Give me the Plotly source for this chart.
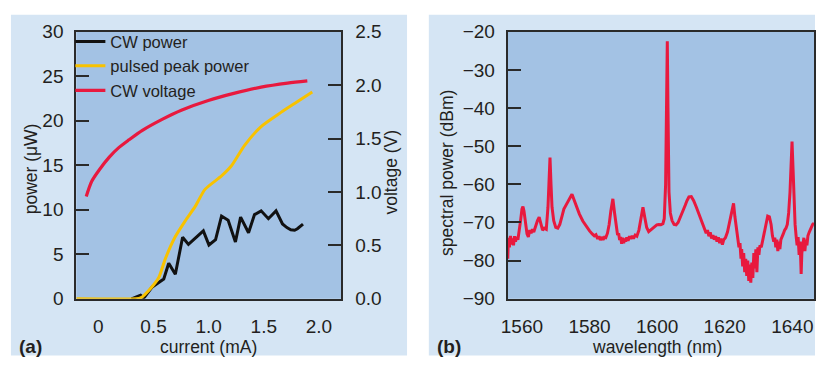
import plotly.graph_objects as go

# ---------------- data: panel (a) ----------------
cw_current = [0.30, 0.339, 0.383, 0.413, 0.489, 0.593, 0.638, 0.698, 0.764, 0.817, 0.952,
              1.003, 1.063, 1.117, 1.177, 1.243, 1.29, 1.362, 1.416, 1.476, 1.542,
              1.611, 1.670, 1.71, 1.745, 1.78, 1.805, 1.856]
cw_power = [0.0, 0.15, 0.4, 0.1, 1.34, 2.22, 3.99, 2.75, 6.92, 6.11, 7.63,
            6.04, 6.64, 9.29, 8.82, 6.39, 9.18, 7.42, 9.46, 9.88, 9.0,
            9.88, 8.40, 8.0, 7.76, 7.7, 7.87, 8.40]

pulsed_current = [-0.2, 0.34, 0.383, 0.473, 0.548, 0.608, 0.698, 0.788, 0.877, 0.967,
                  1.117, 1.207, 1.326, 1.476, 1.656, 1.80, 1.940]
pulsed_power = [0.0, 0.0, 0.1, 1.17, 2.40, 4.52, 6.99, 8.76, 10.35, 12.29,
                13.80, 14.94, 17.24, 19.35, 20.94, 22.1, 23.23]

volt_current = [-0.110, -0.06, 0.009, 0.099, 0.18, 0.278, 0.399, 0.578, 0.758,
                0.997, 1.237, 1.476, 1.715, 1.895]
cw_voltage = [0.957, 1.10, 1.208, 1.326, 1.41, 1.488, 1.577, 1.680, 1.768,
              1.857, 1.925, 1.981, 2.019, 2.04]

a_x_ticks = [0, 0.5, 1.0, 1.5, 2.0]
a_x_labels = ["0", "0.5", "1.0", "1.5", "2.0"]
a_x_minor = [0.5, 1.0, 1.5]
a_y_ticks = [0, 5, 10, 15, 20, 25, 30]
a_y2_ticks = [0, 0.5, 1.0, 1.5, 2.0, 2.5]
a_y2_labels = ["0.0", "0.5", "1.0", "1.5", "2.0", "2.5"]

# ---------------- data: panel (b) ----------------
wavelength = [
    1555.8, 1556.0, 1556.3, 1556.6, 1556.9, 1557.2, 1557.5, 1557.8, 1558.1, 1558.4,
    1558.8, 1559.2, 1559.6, 1560.0, 1560.3, 1560.6, 1561.0, 1561.5, 1561.9, 1562.3,
    1562.7, 1563.1, 1563.5, 1564.0, 1564.6, 1565.1, 1565.6, 1566.1, 1566.6, 1567.2,
    1567.7, 1568.0, 1568.3, 1568.6, 1568.9, 1569.4, 1570.0, 1570.6, 1571.2, 1571.8,
    1572.4, 1573.0, 1573.6, 1574.2, 1574.8, 1575.3, 1576.0, 1577.0, 1578.0, 1579.0,
    1580.0, 1580.8, 1581.4, 1581.9, 1582.4, 1582.8, 1583.2, 1583.6, 1584.0, 1584.4,
    1584.8, 1585.3, 1585.8, 1586.3, 1586.9, 1587.4, 1587.9, 1588.3, 1588.6, 1588.9,
    1589.2, 1589.5, 1589.8, 1590.1, 1590.4, 1590.7, 1591.0, 1591.4, 1591.8, 1592.2,
    1592.6, 1593.0, 1593.5, 1594.0, 1594.6, 1595.2, 1595.8, 1596.3, 1596.9, 1597.5,
    1598.1, 1598.7, 1599.3, 1599.9, 1600.5, 1601.1, 1601.7, 1602.1, 1602.5, 1602.8,
    1603.0, 1603.2, 1603.5, 1603.9, 1604.4, 1605.0, 1605.6, 1606.2, 1606.8, 1607.4,
    1607.8, 1608.3, 1608.8, 1609.4, 1610.1, 1610.8, 1611.6, 1612.4, 1613.2, 1614.0,
    1614.5, 1614.9, 1615.3, 1615.7, 1616.1, 1616.5, 1616.9, 1617.3, 1617.7, 1618.1,
    1618.5, 1618.9, 1619.3, 1619.7, 1620.2, 1620.8, 1621.4, 1622.0, 1622.6, 1623.0,
    1623.5, 1623.9, 1624.2, 1624.5, 1624.8, 1625.0, 1625.3, 1625.6, 1625.9, 1626.2,
    1626.5, 1626.8, 1627.1, 1627.4, 1627.7, 1628.0, 1628.3, 1628.6, 1628.9, 1629.2,
    1629.5, 1629.8, 1630.1, 1630.4, 1630.8, 1631.2, 1631.7, 1632.2, 1632.7, 1633.2,
    1633.7, 1634.1, 1634.5, 1634.8, 1635.1, 1635.4, 1635.7, 1636.0, 1636.3, 1636.6,
    1636.9, 1637.3, 1637.7, 1638.1, 1638.5, 1638.9, 1639.3, 1639.6, 1639.9, 1640.2,
    1640.5, 1640.8, 1641.1, 1641.4, 1641.7, 1642.0, 1642.3, 1642.6, 1642.8, 1643.1,
    1643.4, 1643.7, 1644.0, 1644.3, 1644.6, 1645.0, 1645.5, 1646.0, 1646.4]
spectral_power = [
    -79.5, -74.0, -76.5, -73.5, -75.8, -74.2, -76.0, -73.6, -75.0, -73.8,
    -74.5, -72.5, -69.5, -66.5, -65.8, -67.0, -70.5, -73.0, -73.8, -72.0,
    -72.8, -71.8, -72.5, -70.8, -69.5, -68.6, -70.5, -72.0, -71.5, -71.8,
    -66.0, -60.0, -53.0, -60.0, -66.0, -69.5, -71.3, -71.5, -70.5, -68.5,
    -66.5, -65.5, -64.5, -63.3, -62.6, -63.8, -65.6, -67.8, -69.6, -71.0,
    -72.2, -73.0, -73.5, -73.2, -74.3, -73.6, -74.6, -73.8, -74.5, -73.9,
    -74.0, -72.8, -70.5, -67.0, -63.8, -67.5, -71.5, -73.3, -72.8, -74.6,
    -73.8, -75.6, -74.0, -75.4, -74.2, -75.0, -73.9, -74.8, -73.6, -74.3,
    -73.5, -74.2, -73.3, -73.6, -72.0, -69.0, -66.0, -68.5, -71.3, -72.4,
    -72.0, -71.5, -71.0, -70.6, -70.5, -70.6, -70.3, -69.0, -60.0, -40.0,
    -22.5, -40.0, -62.0, -67.5, -69.5, -70.5, -70.6, -70.0, -68.8, -67.2,
    -66.4, -65.5, -64.3, -63.3, -63.2, -64.3, -66.0, -67.8, -69.6, -71.3,
    -72.8, -72.0, -73.6, -72.6, -74.2, -73.3, -74.5, -73.6, -75.0, -73.9,
    -75.4, -74.2, -75.8, -74.5, -74.0, -72.5, -70.0, -67.5, -65.0, -68.5,
    -72.5, -74.0, -76.5, -75.4, -79.5, -77.0, -81.5, -78.0, -83.0, -79.5,
    -84.0, -80.0, -85.3, -81.0, -85.8, -80.5, -84.5, -78.0, -82.0, -77.0,
    -83.0, -76.5, -78.5, -76.0, -76.5, -74.8, -72.5, -69.8, -68.3, -68.5,
    -70.5, -73.5, -75.0, -74.0, -76.5, -74.5, -77.5, -75.0, -77.0, -74.5,
    -74.0, -73.0, -72.0, -71.5, -70.5, -67.5, -62.0, -55.0, -48.8, -56.0,
    -64.0, -70.5, -73.5, -76.0, -73.8, -78.5, -75.0, -83.5, -78.0, -76.5,
    -74.0, -77.5, -74.5, -76.0, -73.5, -72.5, -71.5, -70.5, -70.2]

b_x_ticks = [1560, 1580, 1600, 1620, 1640]
b_x_minor = [1580, 1600, 1620]
b_y_ticks = [-90, -80, -70, -60, -50, -40, -30, -20]
b_y_labels = ["\u2212" + str(abs(v)) for v in b_y_ticks]

# ---------------- styling ----------------
W, H = 816, 374
FONT = "Liberation Sans, Arial, sans-serif"
TXT = "#231f20"
LINE = "#2a2a2a"
OUTER = "#d5e5f4"
INNER = "#a3c2e4"
RED = "#e8193e"
YEL = "#f8c200"


def px(x):
    return x / W


def py(y):
    return (H - y) / H


a_dom_x = [px(70), px(337.7)]
b_dom_x = [px(505.7), px(815)]
dom_y = [py(306), py(23)]

fig = go.Figure()

fig.add_trace(go.Scatter(x=cw_current, y=cw_power, mode="lines", name="CW power",
                         line=dict(color="#111111", width=3), xaxis="x", yaxis="y",
                         legendgroup="g1"))
fig.add_trace(go.Scatter(x=pulsed_current, y=pulsed_power, mode="lines",
                         name="pulsed peak power",
                         line=dict(color=YEL, width=3, shape="spline", smoothing=0.6),
                         xaxis="x", yaxis="y", legendgroup="g2"))
fig.add_trace(go.Scatter(x=volt_current, y=cw_voltage, mode="lines", name="CW voltage",
                         line=dict(color=RED, width=3.2, shape="spline", smoothing=0.8),
                         xaxis="x", yaxis="y2", legendgroup="g3"))
fig.add_trace(go.Scatter(x=wavelength, y=spectral_power, mode="lines", showlegend=False,
                         line=dict(color=RED, width=3), xaxis="x2", yaxis="y3"))

tickfont = dict(family=FONT, size=19, color=TXT)
common_line = dict(showline=True, linecolor=LINE, linewidth=2, showgrid=False,
                   zeroline=False, tickfont=tickfont, ticklabeloverflow="allow")

# The page div is sized to W x H (see write_html below); autosize fills it.
fig.update_layout(
    autosize=True, margin=dict(l=0, r=0, t=0, b=0),
    paper_bgcolor="white", plot_bgcolor="rgba(0,0,0,0)",
    font=dict(family=FONT, color=TXT),
    showlegend=True,
    legend=dict(x=px(64), y=py(15), xanchor="left", yanchor="top",
                bgcolor="rgba(0,0,0,0)", font=dict(family=FONT, size=16.5, color=TXT),
                itemwidth=30, traceorder="grouped", tracegroupgap=0),
    # panel (a)
    xaxis=dict(domain=a_dom_x, range=[-0.2, 2.204], anchor="y", tickvals=a_x_ticks,
               ticktext=a_x_labels, ticks="", mirror=True, ticklabelstandoff=9,
               **common_line),
    xaxis3=dict(overlaying="x", range=[0, 2.0075], anchor="y", tickvals=a_x_minor,
                ticks="inside", ticklen=13, tickwidth=1.6, tickcolor=LINE,
                showticklabels=False, showline=False, showgrid=False, zeroline=False),
    yaxis=dict(domain=dom_y, range=[0, 30], anchor="x", tickvals=a_y_ticks,
               ticks="inside", ticklen=13, tickwidth=1.6, tickcolor=LINE,
               mirror=True, ticklabelstandoff=7, **common_line),
    yaxis2=dict(overlaying="y", side="right", range=[0, 2.5], anchor="x",
                tickvals=a_y2_ticks, ticktext=a_y2_labels, ticks="inside", ticklen=13,
                tickwidth=1.6, tickcolor=LINE, ticklabelstandoff=8, **common_line),
    # panel (b)
    xaxis2=dict(domain=b_dom_x, range=[1555.8, 1646.4], anchor="y3", tickvals=b_x_ticks,
                ticks="", mirror=True, ticklabelstandoff=9, **common_line),
    xaxis4=dict(overlaying="x2", range=[1560.6, 1640.8], anchor="y3", tickvals=b_x_minor,
                ticks="inside", ticklen=13, tickwidth=1.6, tickcolor=LINE,
                showticklabels=False, showline=False, showgrid=False, zeroline=False),
    yaxis3=dict(domain=dom_y, range=[-90, -20], anchor="x2", tickvals=b_y_ticks,
                ticktext=b_y_labels, ticks="inside", ticklen=13, tickwidth=1.6,
                tickcolor=LINE, mirror=True, ticklabelstandoff=7, **common_line),
)

shapes = [
    dict(type="rect", xref="paper", yref="paper", x0=px(4), x1=px(404), y0=py(366),
         y1=py(5), fillcolor=OUTER, line=dict(width=0), layer="below"),
    dict(type="rect", xref="paper", yref="paper", x0=px(426), x1=1, y0=py(366),
         y1=py(5), fillcolor=OUTER, line=dict(width=0), layer="below"),
    dict(type="rect", xref="x domain", yref="y domain", x0=0, x1=1, y0=0, y1=1,
         fillcolor=INNER, line=dict(width=0), layer="below"),
    dict(type="rect", xref="x2 domain", yref="y3 domain", x0=0, x1=1, y0=0, y1=1,
         fillcolor=INNER, line=dict(width=0), layer="below"),
]
fig.update_layout(shapes=shapes)

title_font = dict(family=FONT, size=17.5, color=TXT)
ann = [
    dict(text="current (mA)", x=px(203), y=py(357), font=title_font),
    dict(text="wavelength (nm)", x=px(656), y=py(357), font=title_font),
    dict(text="power (\u03bcW)", x=px(24), y=py(168), textangle=-90, font=title_font),
    dict(text="voltage (V)", x=px(388), y=py(172), textangle=-90, font=title_font),
    dict(text="spectral power (dBm)", x=px(445), y=py(173), textangle=-90,
         font=title_font),
    dict(text="<b>(a)</b>", x=px(24), y=py(357), font=dict(family=FONT, size=19, color=TXT)),
    dict(text="<b>(b)</b>", x=px(446), y=py(357), font=dict(family=FONT, size=19, color=TXT)),
]
for a in ann:
    a.update(xref="paper", yref="paper", showarrow=False, xanchor="center",
             yanchor="middle")
fig.update_layout(annotations=ann)

fig.write_html(
    "out.html",
    config={"displayModeBar": False},
    default_width=f"{W}px",
    default_height=f"{H}px; position:absolute; top:0px; left:0px",
    post_script="document.body.style.margin='0';document.body.style.overflow='hidden';",
)
